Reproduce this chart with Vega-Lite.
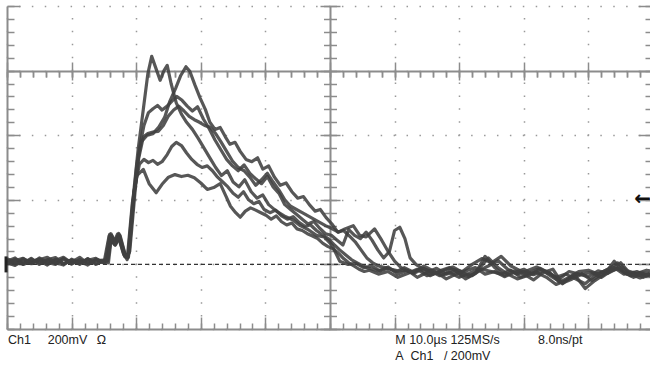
{
  "$schema": "https://vega.github.io/schema/vega-lite/v6.json",
  "width": 646,
  "height": 323,
  "autosize": {"type": "none"},
  "padding": {"left": 7, "top": 6, "right": 0, "bottom": 40},
  "background": "white",
  "config": {
    "view": {"stroke": null},
    "axis": {"labels": false, "domain": false, "grid": false, "ticks": true, "tickColor": "#8c8c8c", "tickWidth": 1.5, "domainColor": "#8c8c8c", "domainWidth": 2, "gridColor": "#999999", "gridDash": [1.5, 11.42], "gridWidth": 1.5}
  },
  "datasets": {
    "ground": [{"t": -0.15, "v": 0}],
    "trigger": [{"t": 100, "v": 200}],
    "readout": [
      {"text": "Ch1", "t": 0.15, "v": -235},
      {"text": "200mV", "t": 6.3, "v": -235},
      {"text": "Ω", "t": 13.9, "v": -235},
      {"text": "M 10.0µs 125MS/s", "t": 60.1, "v": -235},
      {"text": "8.0ns/pt", "t": 82.2, "v": -235},
      {"text": "A\u00a0\u00a0Ch1\u00a0\u00a0\u00a0/\u00a0200mV", "t": 60.1, "v": -285}
    ],
    "A": [
      {"t":0,"v":14},{"t":1.25,"v":1},{"t":2.5,"v":18},{"t":3.75,"v":4},{"t":5,"v":12},{"t":6.25,"v":-2},{"t":7.5,"v":16},{"t":8.75,"v":3},{"t":10,"v":14},{"t":11.25,"v":0},{"t":12.5,"v":18},{"t":13.75,"v":2},{"t":15,"v":10},
      {"t":15.6,"v":12},{"t":16.1,"v":80},{"t":16.7,"v":60},{"t":17.3,"v":84},{"t":18.1,"v":30},{"t":18.7,"v":20},{"t":19.5,"v":201},{"t":20.3,"v":356},{"t":21.1,"v":480},{"t":21.8,"v":590},{"t":22.4,"v":644},{"t":23.0,"v":610},{"t":23.7,"v":570},{"t":24.3,"v":600},{"t":24.8,"v":616},{"t":25.4,"v":560},{"t":26.2,"v":500},{"t":27.0,"v":465},{"t":27.8,"v":440},{"t":28.7,"v":418},{"t":29.6,"v":390},{"t":30.5,"v":360},{"t":31.4,"v":330},{"t":32.3,"v":300},{"t":33.2,"v":275},{"t":34.1,"v":290},{"t":35.0,"v":255},{"t":35.9,"v":240},{"t":36.8,"v":262},{"t":37.8,"v":225},{"t":38.7,"v":205},{"t":39.6,"v":215},{"t":40.5,"v":185},{"t":41.7,"v":165},{"t":42.9,"v":150},{"t":44.2,"v":138},{"t":45.4,"v":120},{"t":46.6,"v":108},{"t":47.9,"v":90},{"t":49.1,"v":85},{"t":50.3,"v":60},{"t":51.5,"v":10},{"t":52.8,"v":0},{"t":54.0,"v":3},{"t":55.2,"v":-10},{"t":56.5,"v":-5},{"t":57.7,"v":-20},{"t":59.0,"v":-12},{"t":60.2,"v":-22},
      {"t":61.5,"v":-18},{"t":63,"v":-28},{"t":64.5,"v":-12},{"t":66,"v":-30},{"t":67.5,"v":-20},{"t":69,"v":-8},{"t":70.5,"v":-25},{"t":72,"v":-35},{"t":73.5,"v":-15},{"t":75,"v":-22},{"t":76.5,"v":-30},{"t":78,"v":-18},{"t":79.5,"v":-40},{"t":81,"v":-25},{"t":82.5,"v":-12},{"t":84,"v":-28},{"t":85.5,"v":-45},{"t":87,"v":-22},{"t":88.5,"v":-30},{"t":90,"v":-38},{"t":91.5,"v":-20},{"t":93,"v":-28},{"t":94.5,"v":-12},{"t":96,"v":-30},{"t":97.5,"v":-22},{"t":99,"v":-35},{"t":100,"v":-25}
    ],
    "B": [
      {"t":0,"v":2},{"t":1.25,"v":16},{"t":2.5,"v":4},{"t":3.75,"v":19},{"t":5,"v":0},{"t":6.25,"v":13},{"t":7.5,"v":3},{"t":8.75,"v":19},{"t":10,"v":1},{"t":11.25,"v":15},{"t":12.5,"v":4},{"t":13.75,"v":14},{"t":15.2,"v":8},
      {"t":15.9,"v":93},{"t":16.6,"v":68},{"t":17.3,"v":96},{"t":18.2,"v":25},{"t":18.8,"v":28},{"t":19.5,"v":186},{"t":20.1,"v":310},{"t":20.8,"v":380},{"t":21.7,"v":400},{"t":22.6,"v":405},{"t":23.5,"v":425},{"t":24.4,"v":455},{"t":25.2,"v":505},{"t":26.1,"v":545},{"t":26.9,"v":585},{"t":27.7,"v":612},{"t":28.3,"v":598},{"t":29.1,"v":555},{"t":29.9,"v":515},{"t":30.7,"v":480},{"t":31.4,"v":440},{"t":32.2,"v":418},{"t":33.0,"v":424},{"t":33.8,"v":395},{"t":34.5,"v":372},{"t":35.3,"v":378},{"t":36.1,"v":350},{"t":37.0,"v":325},{"t":37.9,"v":318},{"t":38.8,"v":330},{"t":39.6,"v":295},{"t":40.5,"v":305},{"t":41.4,"v":270},{"t":42.3,"v":245},{"t":43.2,"v":252},{"t":44.1,"v":225},{"t":45.0,"v":205},{"t":45.9,"v":210},{"t":46.8,"v":185},{"t":47.7,"v":165},{"t":48.5,"v":170},{"t":49.4,"v":145},{"t":50.3,"v":125},{"t":51.2,"v":100},{"t":52.1,"v":105},{"t":53.0,"v":88},{"t":53.9,"v":70},{"t":54.8,"v":45},{"t":55.7,"v":20},{"t":56.6,"v":5},{"t":57.5,"v":-5},{"t":58.5,"v":-10},{"t":59.5,"v":-15},{"t":60.5,"v":-20},
      {"t":61.5,"v":-10},{"t":63,"v":-25},{"t":64.5,"v":-5},{"t":66,"v":-20},{"t":67.5,"v":-32},{"t":69,"v":-15},{"t":70.5,"v":-22},{"t":72,"v":0},{"t":73.5,"v":18},{"t":75,"v":5},{"t":76.5,"v":25},{"t":78,"v":-5},{"t":79.5,"v":-20},{"t":81,"v":-30},{"t":82.5,"v":-15},{"t":84,"v":-25},{"t":85.5,"v":-55},{"t":87,"v":-40},{"t":88.5,"v":-22},{"t":90,"v":-18},{"t":91.5,"v":-30},{"t":93,"v":-15},{"t":94.5,"v":5},{"t":96,"v":-20},{"t":97.5,"v":-28},{"t":99,"v":-18},{"t":100,"v":-22}
    ],
    "C": [
      {"t":0,"v":10},{"t":1.25,"v":20},{"t":2.5,"v":0},{"t":3.75,"v":9},{"t":5,"v":17},{"t":6.25,"v":2},{"t":7.5,"v":12},{"t":8.75,"v":22},{"t":10,"v":4},{"t":11.25,"v":10},{"t":12.5,"v":-2},{"t":13.75,"v":16},{"t":15,"v":6},
      {"t":15.7,"v":5},{"t":16.2,"v":90},{"t":16.9,"v":65},{"t":17.5,"v":90},{"t":18.4,"v":22},{"t":19.0,"v":40},{"t":19.8,"v":220},{"t":20.5,"v":360},{"t":21.2,"v":430},{"t":21.9,"v":470},{"t":22.6,"v":482},{"t":23.3,"v":492},{"t":24.0,"v":478},{"t":24.8,"v":490},{"t":25.5,"v":505},{"t":26.3,"v":520},{"t":27.1,"v":508},{"t":27.9,"v":490},{"t":28.7,"v":475},{"t":29.5,"v":488},{"t":30.4,"v":450},{"t":31.3,"v":420},{"t":32.2,"v":385},{"t":33.1,"v":355},{"t":34.0,"v":325},{"t":34.9,"v":305},{"t":35.8,"v":290},{"t":36.7,"v":308},{"t":37.6,"v":282},{"t":38.5,"v":265},{"t":39.4,"v":250},{"t":40.3,"v":272},{"t":41.2,"v":240},{"t":42.1,"v":220},{"t":43.0,"v":185},{"t":43.9,"v":170},{"t":44.8,"v":155},{"t":45.7,"v":140},{"t":46.6,"v":125},{"t":47.5,"v":133},{"t":48.4,"v":112},{"t":49.3,"v":95},{"t":50.2,"v":90},{"t":51.1,"v":75},{"t":52.0,"v":60},{"t":52.9,"v":108},{"t":53.8,"v":90},{"t":54.7,"v":80},{"t":55.6,"v":100},{"t":56.5,"v":75},{"t":57.4,"v":45},{"t":58.3,"v":20},{"t":59.2,"v":40},{"t":60.0,"v":105},{"t":60.8,"v":115},{"t":61.6,"v":80},{"t":62.4,"v":20},{"t":63.3,"v":0},{"t":64.2,"v":-12},
      {"t":65.5,"v":-20},{"t":67,"v":-35},{"t":68.5,"v":-25},{"t":70,"v":-40},{"t":71.5,"v":-28},{"t":73,"v":-15},{"t":74.5,"v":20},{"t":76,"v":-10},{"t":77.5,"v":-30},{"t":79,"v":-45},{"t":80.5,"v":-35},{"t":82,"v":-25},{"t":83.5,"v":-40},{"t":85,"v":-62},{"t":86.5,"v":-50},{"t":88,"v":-35},{"t":89.5,"v":-75},{"t":91,"v":-50},{"t":92.5,"v":-30},{"t":94,"v":10},{"t":95.5,"v":-25},{"t":97,"v":-40},{"t":98.5,"v":-30},{"t":100,"v":-38}
    ],
    "D": [
      {"t":0,"v":5},{"t":1.25,"v":-3},{"t":2.5,"v":14},{"t":3.75,"v":2},{"t":5,"v":20},{"t":6.25,"v":6},{"t":7.5,"v":0},{"t":8.75,"v":17},{"t":10,"v":7},{"t":11.25,"v":22},{"t":12.5,"v":3},{"t":13.75,"v":12},{"t":15,"v":13},
      {"t":15.5,"v":10},{"t":16.0,"v":85},{"t":16.6,"v":62},{"t":17.2,"v":88},{"t":18.2,"v":32},{"t":18.8,"v":22},{"t":19.6,"v":205},{"t":20.4,"v":330},{"t":21.1,"v":395},{"t":21.8,"v":405},{"t":22.6,"v":410},{"t":23.4,"v":412},{"t":24.2,"v":430},{"t":25.0,"v":460},{"t":25.8,"v":478},{"t":26.6,"v":490},{"t":27.4,"v":475},{"t":28.2,"v":458},{"t":29.0,"v":448},{"t":29.8,"v":440},{"t":30.6,"v":430},{"t":31.4,"v":425},{"t":32.3,"v":405},{"t":33.1,"v":380},{"t":34.0,"v":350},{"t":34.9,"v":320},{"t":35.8,"v":300},{"t":36.7,"v":290},{"t":37.6,"v":270},{"t":38.5,"v":245},{"t":39.4,"v":262},{"t":40.3,"v":282},{"t":41.2,"v":255},{"t":42.1,"v":230},{"t":43.0,"v":200},{"t":43.9,"v":180},{"t":44.8,"v":170},{"t":45.7,"v":160},{"t":46.6,"v":150},{"t":47.5,"v":140},{"t":48.4,"v":130},{"t":49.3,"v":120},{"t":50.2,"v":112},{"t":51.3,"v":100},{"t":52.3,"v":110},{"t":53.6,"v":120},{"t":54.6,"v":90},{"t":55.6,"v":85},{"t":56.9,"v":110},{"t":58.0,"v":75},{"t":59.0,"v":40},{"t":60.0,"v":10},{"t":61.0,"v":-10},
      {"t":62.5,"v":-25},{"t":64,"v":-15},{"t":65.5,"v":-35},{"t":67,"v":-20},{"t":68.5,"v":-10},{"t":70,"v":-28},{"t":71.5,"v":-38},{"t":73,"v":-20},{"t":74.5,"v":-5},{"t":76,"v":12},{"t":77.5,"v":-15},{"t":79,"v":-30},{"t":80.5,"v":-20},{"t":82,"v":-8},{"t":83.5,"v":-25},{"t":85,"v":-40},{"t":86.5,"v":-30},{"t":88,"v":-45},{"t":89.5,"v":-60},{"t":91,"v":-35},{"t":92.5,"v":-20},{"t":94,"v":-10},{"t":95.5,"v":-30},{"t":97,"v":-25},{"t":98.5,"v":-40},{"t":100,"v":-28}
    ],
    "E": [
      {"t":0,"v":18},{"t":1.25,"v":6},{"t":2.5,"v":1},{"t":3.75,"v":16},{"t":5,"v":4},{"t":6.25,"v":14},{"t":7.5,"v":21},{"t":8.75,"v":1},{"t":10,"v":12},{"t":11.25,"v":4},{"t":12.5,"v":17},{"t":13.75,"v":0},{"t":15,"v":11},
      {"t":15.6,"v":15},{"t":16.1,"v":95},{"t":16.8,"v":60},{"t":17.4,"v":92},{"t":18.3,"v":28},{"t":18.9,"v":35},{"t":19.7,"v":230},{"t":20.5,"v":310},{"t":21.2,"v":325},{"t":21.9,"v":315},{"t":22.6,"v":322},{"t":23.3,"v":310},{"t":24.0,"v":318},{"t":24.8,"v":340},{"t":25.5,"v":365},{"t":26.2,"v":378},{"t":27.0,"v":368},{"t":27.8,"v":345},{"t":28.6,"v":325},{"t":29.4,"v":310},{"t":30.2,"v":300},{"t":31.0,"v":305},{"t":31.8,"v":290},{"t":32.6,"v":270},{"t":33.4,"v":255},{"t":34.2,"v":240},{"t":35.0,"v":220},{"t":35.8,"v":208},{"t":36.6,"v":225},{"t":37.4,"v":200},{"t":38.2,"v":188},{"t":39.0,"v":195},{"t":39.8,"v":170},{"t":40.7,"v":160},{"t":41.6,"v":168},{"t":42.5,"v":150},{"t":43.4,"v":140},{"t":44.3,"v":148},{"t":45.2,"v":130},{"t":46.1,"v":118},{"t":47.0,"v":122},{"t":47.9,"v":105},{"t":48.8,"v":92},{"t":49.7,"v":80},{"t":50.6,"v":62},{"t":51.5,"v":45},{"t":52.4,"v":30},{"t":53.3,"v":15},{"t":54.2,"v":5},{"t":55.1,"v":-5},{"t":56.0,"v":-12},
      {"t":57.5,"v":-20},{"t":59,"v":-8},{"t":60.5,"v":-30},{"t":62,"v":-18},{"t":63.5,"v":-40},{"t":65,"v":-25},{"t":66.5,"v":-12},{"t":68,"v":-30},{"t":69.5,"v":-22},{"t":71,"v":-45},{"t":72.5,"v":-28},{"t":74,"v":25},{"t":75.5,"v":-10},{"t":77,"v":-35},{"t":78.5,"v":-20},{"t":80,"v":-30},{"t":81.5,"v":-48},{"t":83,"v":-25},{"t":84.5,"v":-15},{"t":86,"v":-60},{"t":87.5,"v":-35},{"t":89,"v":-28},{"t":90.5,"v":-50},{"t":92,"v":-30},{"t":93.5,"v":-18},{"t":95,"v":5},{"t":96.5,"v":-30},{"t":98,"v":-42},{"t":99.5,"v":-26}
    ],
    "F": [
      {"t":0,"v":0},{"t":1.25,"v":12},{"t":2.5,"v":19},{"t":3.75,"v":3},{"t":5,"v":14},{"t":6.25,"v":22},{"t":7.5,"v":5},{"t":8.75,"v":-2},{"t":10,"v":16},{"t":11.25,"v":6},{"t":12.5,"v":13},{"t":13.75,"v":19},{"t":15,"v":4},
      {"t":15.8,"v":88},{"t":16.5,"v":66},{"t":17.1,"v":94},{"t":18.0,"v":35},{"t":18.6,"v":15},{"t":19.4,"v":190},{"t":20.1,"v":275},{"t":21.1,"v":294},{"t":22.0,"v":250},{"t":23.1,"v":222},{"t":24.0,"v":248},{"t":25.0,"v":270},{"t":26.0,"v":278},{"t":27.0,"v":272},{"t":28.0,"v":276},{"t":29.0,"v":268},{"t":30.0,"v":252},{"t":31.0,"v":232},{"t":32.0,"v":238},{"t":33.0,"v":250},{"t":33.8,"v":215},{"t":34.6,"v":180},{"t":35.4,"v":160},{"t":36.1,"v":146},{"t":36.9,"v":165},{"t":37.7,"v":175},{"t":38.5,"v":168},{"t":39.3,"v":160},{"t":40.1,"v":152},{"t":40.9,"v":140},{"t":41.7,"v":150},{"t":42.5,"v":132},{"t":43.3,"v":122},{"t":44.1,"v":128},{"t":44.9,"v":110},{"t":45.7,"v":105},{"t":46.5,"v":95},{"t":47.3,"v":88},{"t":48.1,"v":80},{"t":48.9,"v":65},{"t":49.7,"v":55},{"t":50.5,"v":48},{"t":51.3,"v":35},{"t":52.1,"v":18},{"t":52.9,"v":5},{"t":53.7,"v":-5},{"t":54.5,"v":-15},{"t":55.3,"v":-22},{"t":56.1,"v":-18},
      {"t":57.5,"v":-30},{"t":59,"v":-22},{"t":60.5,"v":-40},{"t":62,"v":-28},{"t":63.5,"v":-15},{"t":65,"v":-35},{"t":66.5,"v":-25},{"t":68,"v":-45},{"t":69.5,"v":-30},{"t":71,"v":-20},{"t":72.5,"v":-10},{"t":74,"v":-30},{"t":75.5,"v":-22},{"t":77,"v":-38},{"t":78.5,"v":-25},{"t":80,"v":-15},{"t":81.5,"v":-32},{"t":83,"v":-20},{"t":84.5,"v":-40},{"t":86,"v":-58},{"t":87.5,"v":-45},{"t":89,"v":-30},{"t":90.5,"v":-25},{"t":92,"v":-40},{"t":93.5,"v":-20},{"t":95,"v":-10},{"t":96.5,"v":-35},{"t":98,"v":-25},{"t":99.5,"v":-30}
    ]
  },
  "resolve": {"axis": {"x": "independent", "y": "independent"}},
  "layer": [
    {
      "data": {"name": "ground"},
      "mark": {"type": "rule", "stroke": "#333333", "strokeWidth": 1.4, "strokeDash": [4, 3]},
      "encoding": {
        "y": {"field": "v", "type": "quantitative", "scale": {"domain": [-200, 800], "nice": false, "zero": false},
              "axis": {"orient": "left", "offset": -646, "title": null, "values": [-200,-160,-120,-80,-40,0,40,80,120,160,200,240,280,320,360,400,440,480,520,560,600,640,680,720,760,800], "tickSize": 8}}
      }
    },
    {
      "data": {"name": "A"},
      "mark": {"type": "line", "stroke": "#404040", "strokeWidth": 3.2, "strokeJoin": "round", "opacity": 0.88},
      "encoding": {
        "x": {"field": "t", "type": "quantitative", "scale": {"domain": [0, 100], "nice": false, "zero": false},
              "axis": {"orient": "top", "offset": -323, "title": null, "values": [0,2,4,6,8,10,12,14,16,18,20,22,24,26,28,30,32,34,36,38,40,42,44,46,48,50,52,54,56,58,60,62,64,66,68,70,72,74,76,78,80,82,84,86,88,90,92,94,96,98,100], "tickSize": 6, "domain": true}},
        "y": {"field": "v", "type": "quantitative", "scale": {"domain": [-200, 800], "nice": false, "zero": false},
              "axis": {"orient": "right", "offset": -646, "title": null, "values": [-200,-160,-120,-80,-40,0,40,80,120,160,200,240,280,320,360,400,440,480,520,560,600,640,680,720,760,800], "tickSize": 7, "domain": true}}
      }
    },
    {
      "data": {"name": "B"},
      "mark": {"type": "line", "stroke": "#404040", "strokeWidth": 3.2, "strokeJoin": "round", "opacity": 0.88},
      "encoding": {
        "x": {"field": "t", "type": "quantitative", "scale": {"domain": [0, 100], "nice": false, "zero": false},
              "axis": {"orient": "top", "offset": -323, "title": null, "values": [0,10,20,30,40,50,60,70,80,90,100], "tickSize": 12, "grid": true}},
        "y": {"field": "v", "type": "quantitative", "scale": {"domain": [-200, 800], "nice": false, "zero": false},
              "axis": {"orient": "right", "offset": -646, "title": null, "values": [-200,0,200,400,600,800], "tickSize": 13, "grid": true}}
      }
    },
    {
      "data": {"name": "C"},
      "mark": {"type": "line", "stroke": "#404040", "strokeWidth": 3.2, "strokeJoin": "round", "opacity": 0.88},
      "encoding": {
        "x": {"field": "t", "type": "quantitative", "scale": {"domain": [0, 100], "nice": false, "zero": false},
              "axis": {"orient": "top", "offset": -71, "title": null, "values": [0,2,4,6,8,10,12,14,16,18,20,22,24,26,28,30,32,34,36,38,40,42,44,46,48,50,52,54,56,58,60,62,64,66,68,70,72,74,76,78,80,82,84,86,88,90,92,94,96,98,100], "tickSize": 6}},
        "y": {"field": "v", "type": "quantitative", "scale": {"domain": [-200, 800], "nice": false, "zero": false},
              "axis": {"orient": "left", "offset": -323, "title": null, "values": [-200,-160,-120,-80,-40,0,40,80,120,160,200,240,280,320,360,400,440,480,520,560,600,640,680,720,760,800], "tickSize": 6.5, "domain": true}}
      }
    },
    {
      "data": {"name": "D"},
      "mark": {"type": "line", "stroke": "#404040", "strokeWidth": 3.2, "strokeJoin": "round", "opacity": 0.88},
      "encoding": {
        "x": {"field": "t", "type": "quantitative", "scale": {"domain": [0, 100], "nice": false, "zero": false},
              "axis": {"orient": "bottom", "offset": -258, "title": null, "values": [0,2,4,6,8,10,12,14,16,18,20,22,24,26,28,30,32,34,36,38,40,42,44,46,48,50,52,54,56,58,60,62,64,66,68,70,72,74,76,78,80,82,84,86,88,90,92,94,96,98,100], "tickSize": 6, "domain": true}},
        "y": {"field": "v", "type": "quantitative", "scale": {"domain": [-200, 800], "nice": false, "zero": false},
              "axis": {"orient": "right", "offset": -323, "title": null, "values": [-200,-160,-120,-80,-40,0,40,80,120,160,200,240,280,320,360,400,440,480,520,560,600,640,680,720,760,800], "tickSize": 6.5}}
      }
    },
    {
      "data": {"name": "E"},
      "mark": {"type": "line", "stroke": "#404040", "strokeWidth": 3.2, "strokeJoin": "round", "opacity": 0.88},
      "encoding": {
        "x": {"field": "t", "type": "quantitative", "scale": {"domain": [0, 100], "nice": false, "zero": false},
              "axis": {"orient": "top", "offset": -74, "title": null, "values": [0,10,20,30,40,50,60,70,80,90,100], "tickSize": 18}},
        "y": {"field": "v", "type": "quantitative", "scale": {"domain": [-200, 800], "nice": false, "zero": false},
              "axis": {"orient": "left", "offset": -333, "title": null, "values": [-200,0,200,400,600,800], "tickSize": 20}}
      }
    },
    {
      "data": {"name": "F"},
      "mark": {"type": "line", "stroke": "#404040", "strokeWidth": 3.2, "strokeJoin": "round", "opacity": 0.88},
      "encoding": {
        "x": {"field": "t", "type": "quantitative", "scale": {"domain": [0, 100], "nice": false, "zero": false}, "axis": null},
        "y": {"field": "v", "type": "quantitative", "scale": {"domain": [-200, 800], "nice": false, "zero": false},
              "axis": {"orient": "left", "offset": -646, "title": null, "values": [-200,0,200,400,600,800], "tickSize": 15}}
      }
    },
    {
      "data": {"name": "trigger"},
      "mark": {"type": "text", "text": "←", "font": "DejaVu Sans", "fontSize": 20, "fontWeight": "bold", "align": "right", "baseline": "middle", "dx": -2, "dy": -1, "color": "#111111"},
      "encoding": {
        "x": {"field": "t", "type": "quantitative", "scale": {"domain": [0, 100], "nice": false, "zero": false}, "axis": null},
        "y": {"field": "v", "type": "quantitative", "scale": {"domain": [-200, 800], "nice": false, "zero": false}, "axis": null}
      }
    },
    {
      "data": {"name": "ground"},
      "mark": {"type": "tick", "orient": "vertical", "size": 16, "thickness": 3, "color": "#222222", "opacity": 1},
      "encoding": {
        "x": {"field": "t", "type": "quantitative", "scale": {"domain": [0, 100], "nice": false, "zero": false}, "axis": null},
        "y": {"field": "v", "type": "quantitative", "scale": {"domain": [-200, 800], "nice": false, "zero": false}, "axis": null}
      }
    },
    {
      "data": {"name": "readout"},
      "mark": {"type": "text", "font": "Liberation Sans", "fontSize": 12.5, "align": "left", "baseline": "middle", "color": "#222222"},
      "encoding": {
        "text": {"field": "text"},
        "x": {"field": "t", "type": "quantitative", "scale": {"domain": [0, 100], "nice": false, "zero": false}, "axis": null},
        "y": {"field": "v", "type": "quantitative", "scale": {"domain": [-200, 800], "nice": false, "zero": false}, "axis": null}
      }
    }
  ]
}
